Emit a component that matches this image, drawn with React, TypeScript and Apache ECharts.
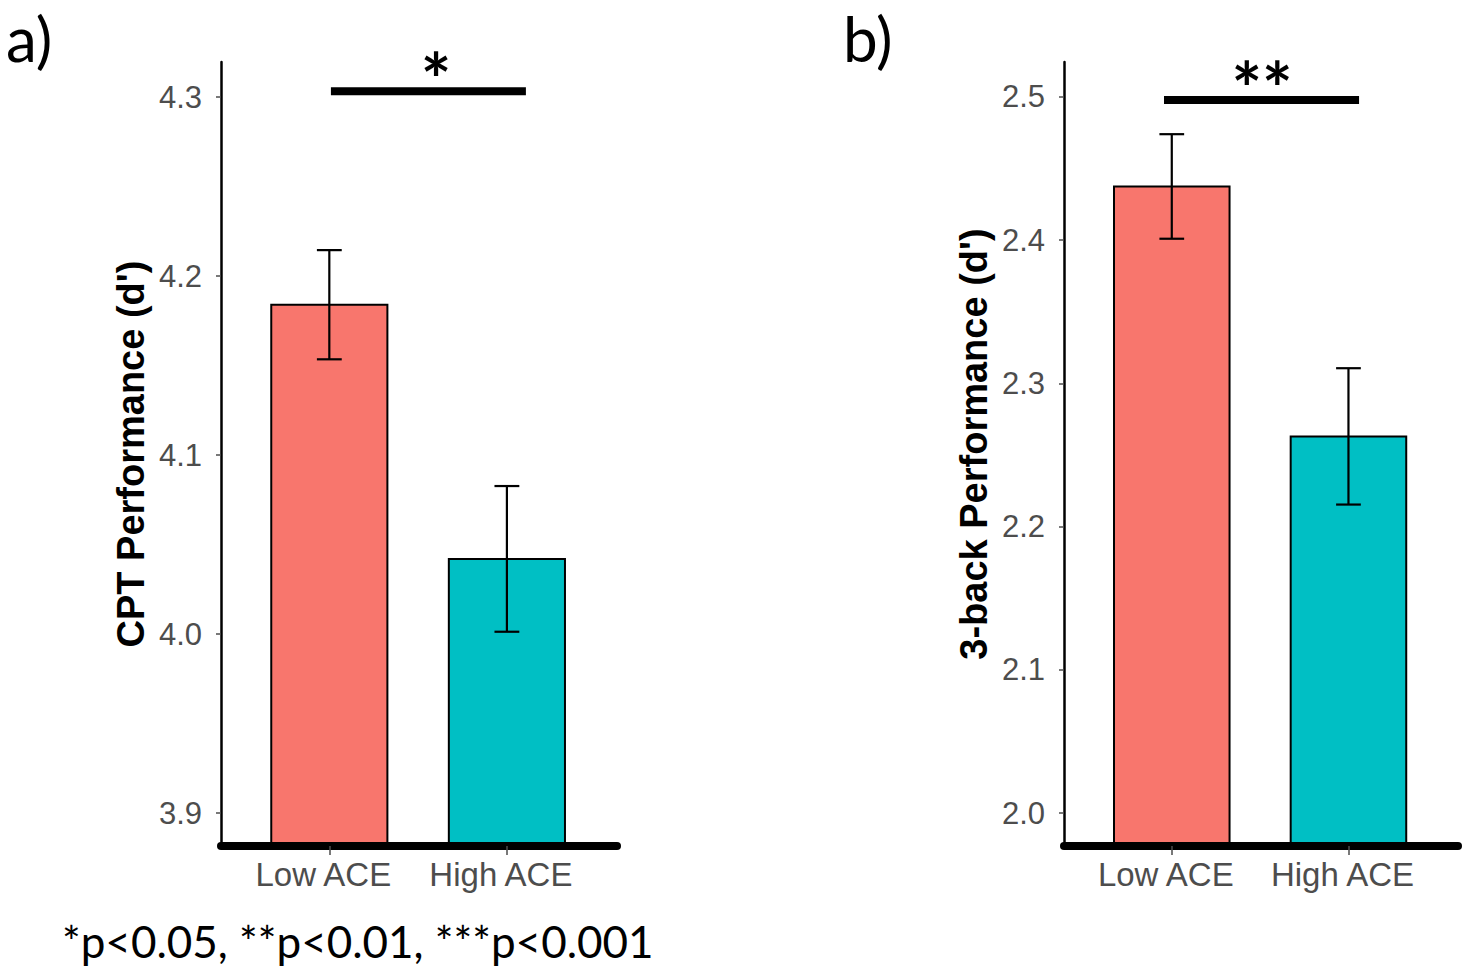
import React, { useEffect, useRef } from "react";
import * as echarts from "echarts";

const categories = ["Low ACE", "High ACE"];
const barColors = ["#F8766D", "#00BFC4"];

const cptMeans = [4.184, 4.042];
const cptSE = [0.0305, 0.0407];
const cptTicks = [3.9, 4.0, 4.1, 4.2, 4.3];
const cptRange = [3.8816, 4.3196];
const cptSig = { from: 1.009, to: 2.107, y: 4.3032, label: "*", labelX: 1.601, labelY: 4.3101 };

const nbackMeans = [2.4375, 2.263];
const nbackSE = [0.0365, 0.0476];
const nbackTicks = [2.0, 2.1, 2.2, 2.3, 2.4, 2.5];
const nbackRange = [1.977, 2.5244];
const nbackSig = { from: 0.956, to: 2.06, y: 2.4979, label: "**", labelX: 1.511, labelY: 2.5062 };

const xRange = [0.39, 2.62];
const BAR_HALF = 0.327;
const CAP_HALF = 0.07;

const AXIS_FONT = "Liberation Sans";
const TEXT_FONT = "Lato";
const GREY = "#4D4D4D";

function panelSeries(idx: number, means: number[], se: number[], yMin: number, sig: any) {
  const data = means.map((m, i) => [i + 1, m, se[i], i]);
  return [
    {
      type: "custom",
      xAxisIndex: idx,
      yAxisIndex: idx,
      data,
      z: 2,
      renderItem: (params: any, api: any) => {
        const x = api.value(0);
        const y = api.value(1);
        const p1 = api.coord([x - BAR_HALF, y]);
        const p2 = api.coord([x + BAR_HALF, yMin]);
        return {
          type: "rect",
          shape: { x: p1[0], y: p1[1], width: p2[0] - p1[0], height: p2[1] - p1[1] },
          style: { fill: barColors[api.value(3)], stroke: "#000", lineWidth: 2 },
        };
      },
    },
    {
      type: "custom",
      xAxisIndex: idx,
      yAxisIndex: idx,
      data,
      z: 3,
      renderItem: (params: any, api: any) => {
        const x = api.value(0);
        const m = api.value(1);
        const e = api.value(2);
        const top = api.coord([x, m + e]);
        const bot = api.coord([x, m - e]);
        const tl = api.coord([x - CAP_HALF, m + e]);
        const tr = api.coord([x + CAP_HALF, m + e]);
        const bl = api.coord([x - CAP_HALF, m - e]);
        const br = api.coord([x + CAP_HALF, m - e]);
        const st = { stroke: "#000", lineWidth: 2.2 };
        return {
          type: "group",
          children: [
            { type: "line", shape: { x1: top[0], y1: top[1], x2: bot[0], y2: bot[1] }, style: st },
            { type: "line", shape: { x1: tl[0], y1: tl[1], x2: tr[0], y2: tr[1] }, style: st },
            { type: "line", shape: { x1: bl[0], y1: bl[1], x2: br[0], y2: br[1] }, style: st },
          ],
        };
      },
    },
    {
      type: "custom",
      xAxisIndex: idx,
      yAxisIndex: idx,
      data: [[sig.from, sig.to, sig.y, sig.labelX, sig.labelY]],
      z: 4,
      clip: false,
      renderItem: (params: any, api: any) => {
        const a = api.coord([api.value(0), api.value(2)]);
        const b = api.coord([api.value(1), api.value(2)]);
        const t = api.coord([api.value(3), api.value(4)]);
        return {
          type: "group",
          children: [
            { type: "line", shape: { x1: a[0], y1: a[1], x2: b[0], y2: b[1] }, style: { stroke: "#000", lineWidth: 8 } },
            {
              type: "text",
              x: t[0],
              y: t[1],
              style: {
                text: sig.label,
                fill: "#000",
                font: `bold 72px ${TEXT_FONT}`,
                align: "center",
                verticalAlign: "middle",
              },
            },
          ],
        };
      },
    },
  ];
}

function xAxisFor(idx: number) {
  return {
    type: "value",
    gridIndex: idx,
    min: xRange[0],
    max: xRange[1],
    z: 5,
    axisLine: { show: true, onZero: false, lineStyle: { color: "#000", width: 8 } },
    axisTick: { show: true, customValues: [1, 2], length: 9, lineStyle: { color: GREY, width: 1.5 } },
    axisLabel: {
      customValues: [1, 2],
      formatter: (v: number) => categories[Math.round(v) - 1],
      color: GREY,
      fontSize: 33,
      fontFamily: AXIS_FONT,
      margin: 12,
      padding: [0, 12, 0, 0],
    },
    splitLine: { show: false },
  };
}

function yAxisFor(idx: number, range: number[], ticks: number[], name: string, pad: number[]) {
  return {
    type: "value",
    gridIndex: idx,
    min: range[0],
    max: range[1],
    z: 5,
    axisLine: { show: true, onZero: false, lineStyle: { color: "#000", width: 2.5 } },
    axisTick: { show: true, customValues: ticks, length: 5, lineStyle: { color: GREY, width: 1.5 } },
    axisLabel: {
      customValues: ticks,
      formatter: (v: number) => v.toFixed(1),
      color: GREY,
      fontSize: 31,
      fontFamily: AXIS_FONT,
      margin: 19,
    },
    splitLine: { show: false },
    name,
    nameLocation: "middle",
    nameGap: 71,
    nameTextStyle: {
      fontSize: 38,
      fontWeight: "bold",
      fontFamily: AXIS_FONT,
      color: "#000",
      padding: pad,
    },
  };
}

export default function App() {
  const ref = useRef<HTMLDivElement>(null);
  useEffect(() => {
    if (!ref.current) return;
    const chart = echarts.init(ref.current, null, { renderer: "svg" });
    chart.setOption({
      animation: false,
      backgroundColor: "#fff",
      grid: [
        { left: 221, top: 62, width: 396, height: 784 },
        { left: 1064, top: 62, width: 394, height: 784 },
      ],
      xAxis: [xAxisFor(0), xAxisFor(1)],
      yAxis: [
        yAxisFor(0, cptRange, cptTicks, "CPT Performance (d')", [0, 0, 0, 0]),
        yAxisFor(1, nbackRange, nbackTicks, "3-back Performance (d')", [0, 0, 0, 20]),
      ],
      series: [
        ...panelSeries(0, cptMeans, cptSE, cptRange[0], cptSig),
        ...panelSeries(1, nbackMeans, nbackSE, nbackRange[0], nbackSig),
      ],
      graphic: [
        {
          type: "text",
          left: 6,
          top: 7,
          style: { text: "a)", font: `62px ${TEXT_FONT}`, fill: "#000" },
        },
        {
          type: "text",
          left: 843,
          top: 7,
          style: { text: "b)", font: `62px ${TEXT_FONT}`, fill: "#000" },
        },
        {
          type: "text",
          left: 62,
          top: 919,
          style: { text: "*p<0.05, **p<0.01, ***p<0.001", font: `44px ${TEXT_FONT}`, fill: "#000" },
        },
      ],
    });
    return () => chart.dispose();
  }, []);
  return (
    <div
      ref={ref}
      style={{ position: "fixed", left: 0, top: 0, width: 1466, height: 977, background: "#fff" }}
    />
  );
}
